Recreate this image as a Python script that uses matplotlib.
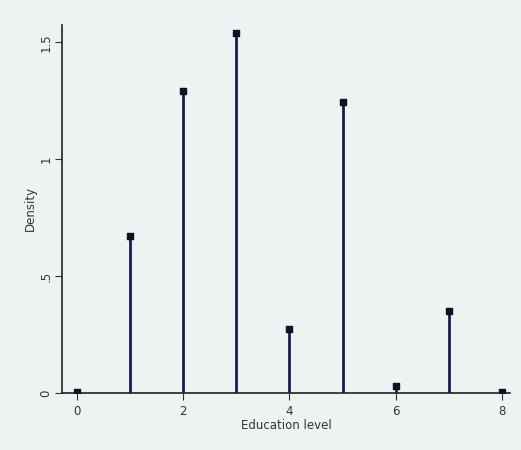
import matplotlib.pyplot as plt

# education level vs density (spike plot)
edu_level = [0, 1, 2, 3, 4, 5, 6, 7, 8]
density = [0.005, 0.67, 1.29, 1.54, 0.275, 1.245, 0.03, 0.35, 0.005]

y_ticks = [0, 0.5, 1, 1.5]
y_tick_labels = ['0', '.5', '1', '1.5']
x_ticks = [0, 2, 4, 6, 8]

bg = '#edf2f3'
navy = '#1c1c4a'

fig = plt.figure(figsize=(5.21, 4.5), dpi=100, facecolor=bg)
ax = fig.add_axes([0.119, 0.127, 0.86, 0.818], facecolor=bg)

ax.vlines(edu_level, 0, density, color=navy, lw=2)
ax.scatter(edu_level, density, marker='s', s=22, color='#111122', zorder=3)

ax.set_xlim(-0.28, 8.15)
ax.set_ylim(0, 1.575)
ax.set_xticks(x_ticks)
ax.set_yticks(y_ticks)
ax.set_yticklabels(y_tick_labels, rotation=90, va='center')

for s in ['top', 'right']:
    ax.spines[s].set_visible(False)
for s in ['left', 'bottom']:
    ax.spines[s].set_color('#222222')
    ax.spines[s].set_linewidth(1.2)

ax.tick_params(labelsize=8.5, colors='#333333', length=5)
ax.tick_params(axis='y', pad=2)
ax.set_xlabel('Education level', fontsize=8.5, color='#333333', labelpad=1)
ax.set_ylabel('Density', fontsize=8.5, color='#333333', labelpad=2)

fig.savefig('out.png', dpi=100, facecolor=bg)
